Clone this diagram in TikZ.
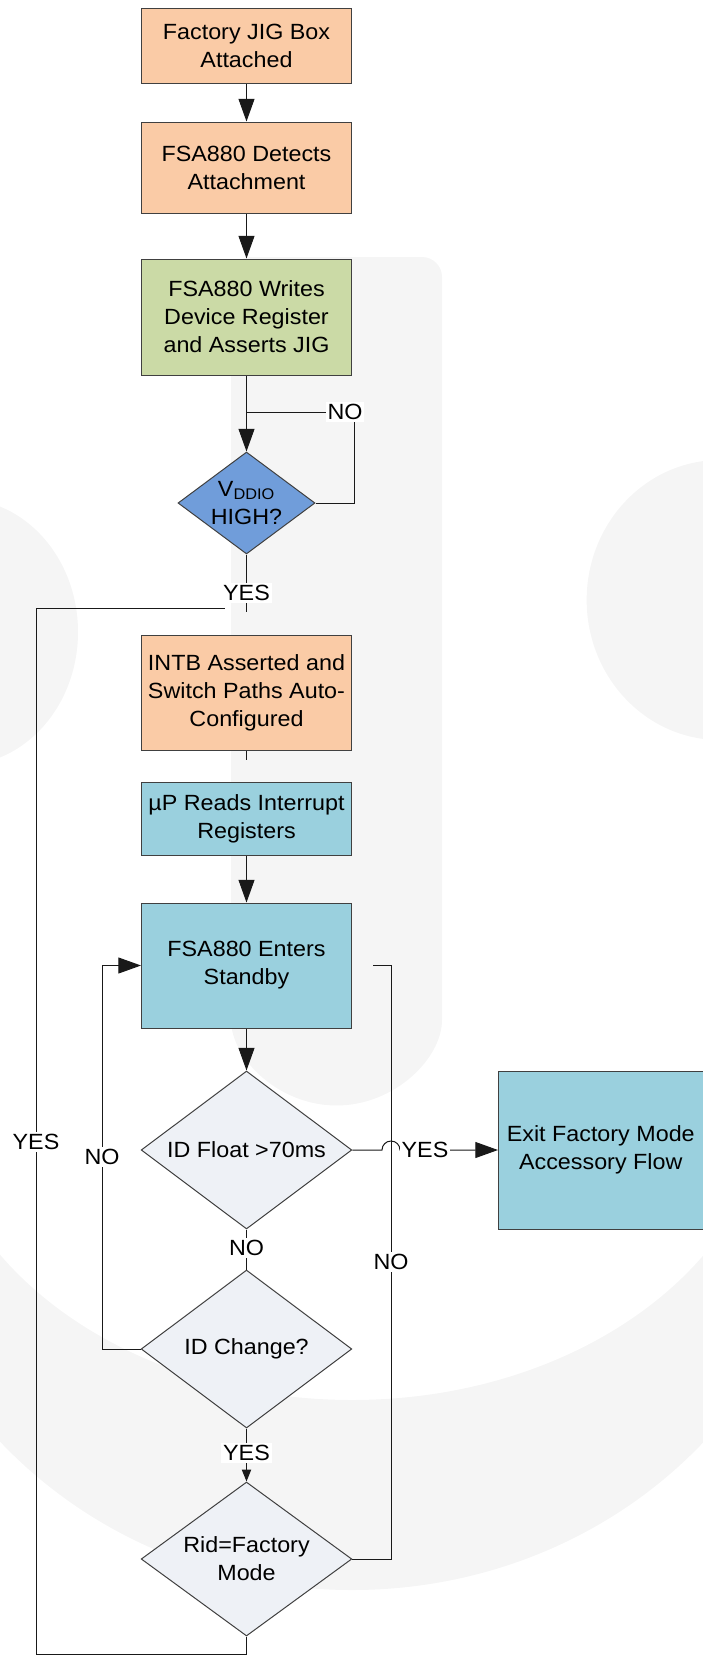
\documentclass[tikz,border=0pt]{standalone}
\usepackage{fontspec}
\setmainfont{Liberation Sans}[FakeStretch=1.06]
\usetikzlibrary{shapes.geometric}
\usetikzlibrary{arrows.meta}
\definecolor{jigorange}{RGB}{250,203,166}
\definecolor{jiggreen}{RGB}{203,218,166}
\definecolor{vddblue}{RGB}{112,157,218}
\definecolor{regteal}{RGB}{154,208,222}
\definecolor{decgray}{RGB}{238,241,246}
\definecolor{wmgray}{RGB}{245,245,245}
\tikzset{
  every node/.style={font=\fontsize{16.5}{21}\selectfont},
  procbox/.style={draw=black!75, line width=0.75pt, minimum width=157.5pt, align=center, inner sep=1pt},
  decision/.style={draw=black!75, line width=0.75pt, diamond, aspect=1.34, inner sep=0pt, align=center, fill=decgray},
  lbl/.style={fill=white, inner sep=1.5pt},
  link/.style={draw=black!90, line width=0.75pt},
  arr/.style={-{Triangle[length=17pt,width=12pt]}},
  smallarr/.style={-{Triangle[length=9pt,width=7pt]}},
  wmark/.style={fill=wmgray}
}

\begin{document}
\begin{tikzpicture}[x=0.75pt,y=-0.75pt]
\useasboundingbox (0,0) rectangle (703,1660);
% faint logo behind the chart
\fill[wmark, rounded corners=15pt] (231,1000) -- (231,257) -- (442,257) -- (442,1000) arc[start angle=0, end angle=-180, radius=79.1pt] -- cycle;
\fill[wmark] (-40,632) ellipse [x radius=88.5pt, y radius=100pt];
\fill[wmark] (720,600) ellipse [x radius=100pt, y radius=105pt];
\begin{scope}
\clip (0,1080) rectangle (703,1660);
\fill[wmark, even odd rule] (352,1150) ellipse [x radius=352.5pt, y radius=330pt] (352,1080) ellipse [x radius=315pt, y radius=240pt];
\end{scope}

\node[procbox, fill=jigorange, minimum height=56.25pt] (jig) at (246.5,46) {Factory JIG Box\\Attached};
\node[procbox, fill=jigorange, minimum height=68.25pt] (detect) at (246.5,167.5) {FSA880 Detects\\Attachment};
\node[procbox, fill=jiggreen, minimum height=87pt] (writes) at (246.5,317) {FSA880 Writes\\Device Register\\and Asserts JIG};
\node[decision, fill=vddblue, minimum width=102.75pt, minimum height=76.5pt] (vddio) at (246.5,503) {V\textsubscript{DDIO}\\HIGH?};
\node[procbox, fill=jigorange, minimum height=86.25pt] (intb) at (246.5,692.5) {INTB Asserted and\\Switch Paths Auto-\\Configured};
\node[procbox, fill=regteal, minimum height=54.75pt] (reads) at (246.5,818.5) {µP Reads Interrupt\\Registers};
\node[procbox, fill=regteal, minimum height=93.75pt] (standby) at (246.5,965.5) {FSA880 Enters\\Standby};
\node[decision, minimum width=158pt, minimum height=118.5pt] (float) at (246.5,1150) {ID Float >70ms};
\node[procbox, fill=regteal, minimum width=153.4pt, minimum height=118.5pt] (exit) at (600.75,1150) {Exit Factory Mode\\Accessory Flow};
\node[decision, minimum width=158pt, minimum height=118.5pt] (change) at (246.5,1349) {ID Change?};
\node[decision, minimum width=158pt, minimum height=115.5pt] (rid) at (246.5,1559) {Rid=Factory\\Mode};

\coordinate (noA) at (354,412);
\coordinate (yesA) at (246.5,612);
\coordinate (yesB) at (225,608);
\coordinate (loopBL) at (36,1654);
\coordinate (stubB) at (246.5,760);
\coordinate (jumpA) at (382,1150);
\coordinate (loopL) at (102,965.5);
\coordinate (loopR) at (391,965.5);
\coordinate (endR) at (373,965.5);

\draw[link, arr] (jig) -- (detect);
\draw[link, arr] (detect) -- (writes);
\draw[link, arr] (writes) -- (vddio);
\draw[link] (vddio.east) -| (noA) -- (writes.south |- noA);
\draw[link] (vddio.south) -- (yesA);
\draw[link] (rid.south) |- (loopBL) |- (yesB);
\draw[link] (intb.south) -- (stubB);
\draw[link, arr] (reads) -- (standby);
\draw[link, arr] (standby) -- (float);
\draw[link, arr] (float.east) -- (jumpA) arc[start angle=180, end angle=0, radius=6.75pt] -- (exit.west);
\draw[link] (float.south) -- (change.north);
\draw[link, arr] (change.west) -| (loopL) -- (standby.west);
\draw[link, smallarr] (change.south) -- (rid.north);
\draw[link] (rid.east) -| (loopR) -- (endR);

\node[lbl] (no1) at (345,412) {NO};
\node[lbl] (yes1) at (246.5,593) {YES};
\node[lbl] (yes2) at (36,1142) {YES};
\node[lbl] (yes3) at (425,1150) {YES};
\node[lbl] (no2) at (246.5,1248) {NO};
\node[lbl] (no3) at (102,1157) {NO};
\node[lbl] (no4) at (391,1262) {NO};
\node[lbl] (yes4) at (246.5,1453) {YES};
\end{tikzpicture}
\end{document}
